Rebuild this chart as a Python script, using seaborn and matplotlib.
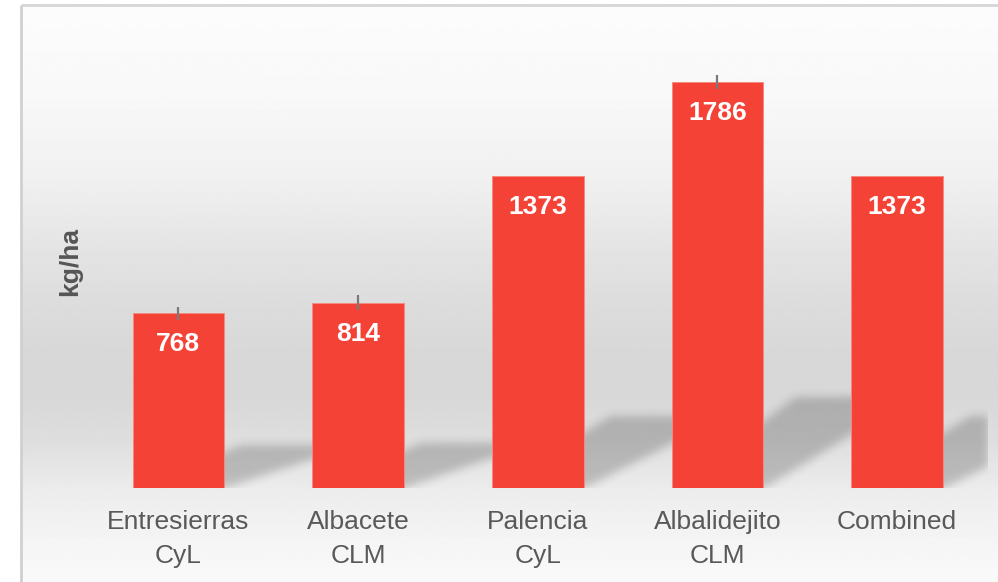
import numpy as np
import pandas as pd
import matplotlib
matplotlib.use("Agg")
import matplotlib.pyplot as plt
import seaborn as sns
from matplotlib.path import Path

# ---- data ----
categories = ["Entresierras\nCyL", "Albacete\nCLM", "Palencia\nCyL", "Albalidejito\nCLM", "Combined"]
yields = [768, 814, 1373, 1786, 1373]
errors = [30, 33, 0, 32, 0]
value_labels = ["768", "814", "1373", "1786", "1373"]
y_label = "kg/ha"

sns.set_theme(style="white")
plt.rcParams['font.family'] = ['Liberation Sans', 'DejaVu Sans']

W, H = 998, 582
fig = plt.figure(figsize=(W / 100, H / 100), dpi=100)
fig.patch.set_facecolor('white')

# ---- background gradient + frame ----
bg = fig.add_axes([0, 0, 1, 1], zorder=0)
bg.set_xlim(0, W)
bg.set_ylim(H, 0)
bg.axis('off')
stops_y = [5, 100, 180, 250, 300, 350, 400, 440, 490, 530, 582]
stops_v = [252, 248, 240, 228, 221, 216, 216, 222, 236, 243, 250]
ys = np.linspace(5, H, 600)
vals = np.interp(ys, stops_y, stops_v) / 255
grad = np.repeat(vals[:, None], 2, axis=1)
bg.imshow(grad, cmap='gray', vmin=0, vmax=1, extent=(21, W, H, 5),
          aspect='auto', interpolation='bilinear')
bg.plot([21, 21], [5, H], color='#d0d0d0', lw=2.0, solid_capstyle='butt')
bg.plot([21, W], [5, 5], color='#d6d6d6', lw=2.0, solid_capstyle='butt')
bg.set_xlim(0, W)
bg.set_ylim(H, 0)

# ---- main axes ----
YMAX = 2059
ax = fig.add_axes([88.5 / W, 94 / H, 898.5 / W, 468 / H], zorder=1)
ax.patch.set_alpha(0)
df = pd.DataFrame({'site': categories, 'yield': yields})
sns.barplot(data=df, x='site', y='yield', color='#F44336', saturation=1,
            width=0.51, errorbar=None, ax=ax, zorder=3,
            edgecolor='#f58a80', linewidth=0.7)
ax.set_xlim(-0.5, 4.5)
ax.set_ylim(0, YMAX)

ax.errorbar(x=np.arange(len(yields)), y=yields, yerr=errors, fmt='none',
            ecolor='#7a7a7a', elinewidth=1.6, capsize=0, zorder=4)

# ---- soft shadows behind bars ----
x0d, y0d = ax.transAxes.transform((0, 0))
x1d, y1d = ax.transAxes.transform((1, 1))
nx = int(round(x1d - x0d))
ny = int(round(y1d - y0d))
gx = x0d + np.arange(nx) + 0.5
gy = y0d + np.arange(ny) + 0.5
GX, GY = np.meshgrid(gx, gy)
pts = np.column_stack([GX.ravel(), GY.ravel()])
mask = np.zeros((ny, nx))
for p in ax.patches:
    bx0 = p.get_x(); bw = p.get_width(); bh = p.get_height()
    px0, pyb = ax.transData.transform((bx0, 0))
    px1, pyt = ax.transData.transform((bx0 + bw, bh))
    hp = pyt - pyb
    h = 0.21 * hp + 6
    dxl = 95 + 0.07 * hp
    dxr = 1.2 * dxl
    poly = Path([(px0, pyb), (px1, pyb), (px1 + dxr, pyb + h), (px0 + dxl, pyb + h)])
    mask = np.maximum(mask, poly.contains_points(pts).reshape(ny, nx).astype(float))


def blur(a, s):
    r = int(3 * s)
    k = np.exp(-0.5 * (np.arange(-r, r + 1) / s) ** 2)
    k /= k.sum()
    a = np.apply_along_axis(lambda m: np.convolve(m, k, mode='same'), 0, a)
    a = np.apply_along_axis(lambda m: np.convolve(m, k, mode='same'), 1, a)
    return a


mask = blur(mask, 4.5)
img = np.zeros((ny, nx, 4))
img[..., 3] = 0.2 * mask
ax.imshow(img, extent=(-0.5, 4.5, 0, YMAX), origin='lower', aspect='auto',
          zorder=2, interpolation='bilinear')
ax.set_xlim(-0.5, 4.5)
ax.set_ylim(0, YMAX)

# ---- value labels ----
for i, (v, lbl) in enumerate(zip(yields, value_labels)):
    ax.annotate(lbl, xy=(i, v), xytext=(0, -27.3), textcoords='offset points',
                ha='center', va='baseline', color='white', fontsize=19,
                fontweight='bold', zorder=5)

# ---- axes styling ----
for s in ax.spines.values():
    s.set_visible(False)
ax.set_yticks([])
ax.set_xlabel('')
ax.set_ylabel(y_label, fontsize=19, fontweight='bold', color='#555555')
ax.yaxis.set_label_coords(-0.007, 0.483)
ax.tick_params(axis='x', length=0, pad=16, labelsize=19, labelcolor='#595959')
for t in ax.get_xticklabels():
    t.set_linespacing(1.5)

fig.savefig('out.png', dpi=100)
